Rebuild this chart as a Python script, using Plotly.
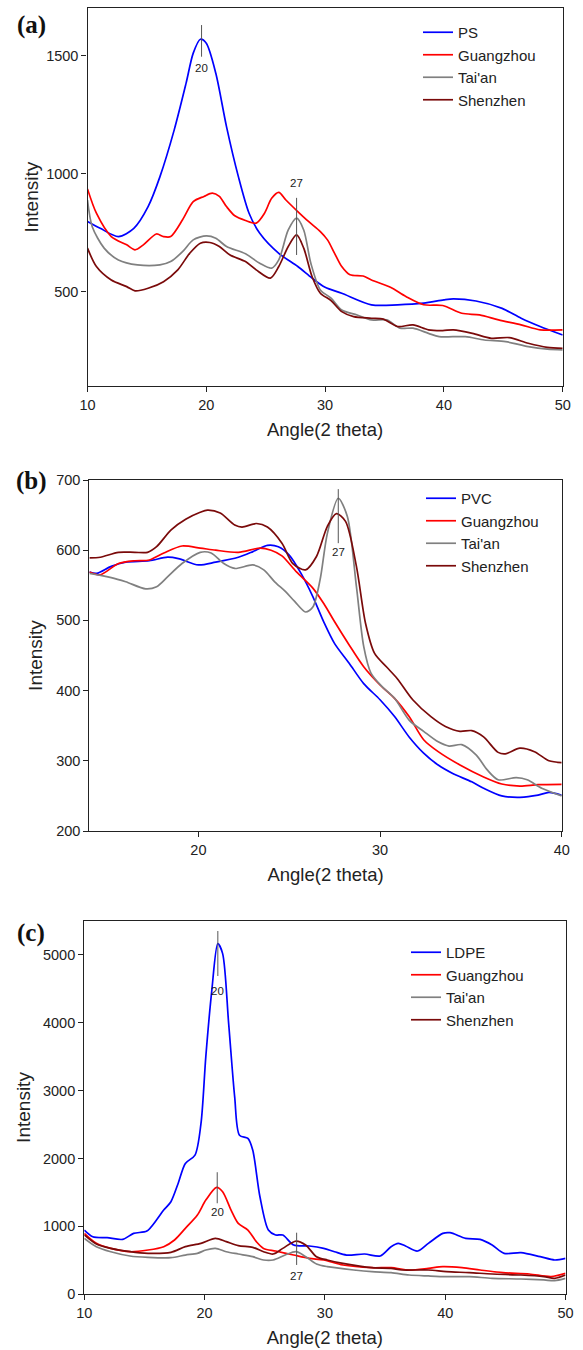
import plotly.graph_objects as go

W, H = 583, 1350
FONT = "Liberation Sans, Arial, sans-serif"
SERIF = "Liberation Serif, Times New Roman, serif"

BLUE, RED, GREY, DARK = "#0000FF", "#FF0000", "#808080", "#7A0A0A"

# ---------------- Panel (a): PS ----------------
a_ps_x = [10, 11.07, 12.6, 13.9, 15.1, 16.1, 17.3, 18.3, 18.9, 19.5, 20.0, 20.8, 21.7, 22.7, 23.6, 24.5,
          26.1, 27.7, 28.9, 30, 31.4, 33.9, 36.1, 38.3, 40, 40.8, 42.7, 44.9, 46.5, 48.1, 50]
a_ps_y = [797, 768, 733, 768, 860, 987, 1185, 1383, 1510, 1569, 1552, 1425, 1199, 987, 832, 747,
          662, 606, 557, 518, 493, 444, 444, 451, 465, 469, 460, 429, 387, 352, 316]
a_gz_x = [10, 10.75, 12.0, 13.3, 14.0, 14.7, 15.8, 16.4, 17.0, 18.0, 18.9, 19.8, 20.5, 21.1, 21.7, 22.4,
          23.3, 24.2, 24.9, 25.5, 26.1, 26.7, 27.7, 28.6, 29.6, 30.2, 30.8, 31.4, 32.1, 33.2, 33.9,
          35.5, 36.8, 38.3, 39.9, 41.5, 43.0, 44.6, 46.5, 48.1, 50]
a_gz_y = [935, 832, 733, 698, 677, 698, 744, 733, 733, 804, 881, 903, 917, 903, 860, 821,
          801, 790, 832, 895, 920, 888, 839, 797, 754, 719, 662, 606, 571, 566, 549,
          518, 479, 444, 441, 408, 401, 380, 359, 338, 338]
a_ta_x = [10, 10.4, 11.4, 12.6, 14.2, 16.1, 17.0, 18.0, 18.9, 20.0, 20.8, 21.7, 23.3, 24.5, 25.5, 26.1,
          26.9, 27.6, 28.2, 28.8, 29.6, 30.5, 31.4, 32.7, 33.9, 35.2, 36.3, 37.4, 38.7, 39.6, 41.8,
          43.4, 45.2, 47.1, 48.7, 50]
a_ta_y = [888, 775, 684, 634, 613, 613, 627, 669, 719, 736, 726, 691, 660, 620, 599, 634,
          761, 811, 761, 620, 507, 472, 422, 401, 380, 380, 345, 345, 323, 309, 309,
          295, 288, 267, 256, 253]
a_sz_x = [10, 10.75, 12.0, 13.3, 14.0, 15.1, 16.4, 17.6, 18.6, 19.5, 20.3, 21.1, 22.0, 23.3, 24.2, 25.4,
          26.1, 26.9, 27.6, 28.2, 28.9, 29.6, 30.5, 31.4, 32.4, 33.9, 34.9, 36.1, 37.4, 38.7, 39.9,
          40.8, 42.4, 44.0, 45.5, 47.1, 48.7, 50]
a_sz_y = [684, 606, 549, 521, 503, 514, 542, 592, 662, 705, 708, 691, 655, 627, 592, 557,
          606, 691, 740, 684, 564, 493, 462, 415, 394, 387, 383, 352, 359, 338, 335,
          338, 323, 302, 305, 281, 264, 260]

# ---------------- Panel (b): PVC ----------------
b_pvc_x = [14, 14.4, 15.2, 16.0, 17.3, 18.3, 18.9, 20, 20.95, 22.2, 23.0, 23.8, 24.4, 25.0, 25.65, 26.3,
           26.9, 27.5, 28.3, 29.1, 30, 30.8, 31.6, 32.4, 33.2, 34.0, 35.05, 35.7, 36.7, 37.7, 38.7,
           39.3, 40]
b_pvc_y = [569, 567, 577, 583, 585, 590, 588, 579, 583, 590, 598, 607, 605, 593, 567, 534,
           498, 467, 439, 410, 387, 363, 334, 311, 294, 282, 270, 261, 250, 248, 251,
           255, 251]
b_gz_x = [14, 14.6, 15.6, 16.5, 17.3, 18.1, 19.1, 20.1, 20.95, 22.2, 23.4, 24.0, 24.6, 25.4, 26.3, 26.9,
          27.5, 28.3, 29.1, 30, 30.8, 31.6, 32.4, 33.2, 34.4, 35.7, 36.7, 37.7, 38.7, 40]
b_gz_y = [569, 565, 581, 585, 586, 596, 606, 603, 600, 597, 603, 600, 592, 569, 546, 524,
          498, 465, 434, 408, 389, 363, 330, 313, 294, 277, 267, 264, 266, 266.5]
b_ta_x = [14, 15.2, 16.0, 17.1, 17.7, 18.3, 19.1, 20.1, 20.7, 21.4, 22.0, 23.0, 23.6, 24.2, 24.8, 25.3,
          25.9, 26.3, 26.7, 27.1, 27.7, 28.2, 28.7, 29.1, 29.5, 30.1, 30.8, 31.6, 32.4, 33.2, 33.8,
          34.5, 35.3, 35.9, 36.5, 37.5, 38.1, 38.9, 40]
b_ta_y = [567, 561, 555, 545, 548, 562, 581, 597, 596, 581, 574, 579, 572, 555, 541, 527,
          512, 519, 558, 624, 674, 648, 548, 463, 425, 406, 389, 358, 342, 327, 321,
          323, 308, 287, 273, 276, 273, 261, 250]
b_sz_x = [14, 14.6, 15.6, 16.5, 17.2, 17.7, 18.5, 19.3, 20.1, 20.5, 21.2, 22.0, 22.4, 23.2, 23.8, 24.6,
          25.2, 25.9, 26.5, 27.1, 27.6, 28.1, 28.7, 29.2, 29.7, 30.35, 30.95, 31.8, 32.8, 33.6, 34.4,
          35.05, 35.7, 36.5, 36.9, 37.7, 38.5, 39.3, 40]
b_sz_y = [589, 590, 597, 597, 597, 605, 629, 644, 654, 657, 653, 636, 633, 638, 633, 610,
          581, 572, 591, 634, 652, 641, 577, 496, 453, 434, 417, 387, 363, 349, 342,
          343, 334, 312, 310, 318, 313, 300, 297.5]

# ---------------- Panel (c): LDPE ----------------
c_ld_x = [10, 10.7, 11.9, 13.2, 14.1, 15.2, 16.0, 16.6, 17.2, 17.8, 18.4, 19.2, 19.7, 20.1, 20.6, 21.1,
          21.5, 22.0, 22.5, 22.9, 23.6, 24.0, 24.6, 25.3, 25.9, 26.5, 27.4, 28.7, 29.9, 30.8, 31.8,
          33.3, 34.6, 35.5, 36.1, 36.7, 37.7, 38.6, 39.8, 40.4, 41.7, 42.9, 43.9, 44.9, 46.3, 47.9,
          49.1, 50]
c_ld_y = [946, 848, 833, 809, 897, 931, 1093, 1240, 1363, 1632, 1926, 2049, 2515, 3495, 4475, 5162,
          5015, 3985, 2907, 2343, 2294, 2123, 1436, 946, 873, 873, 726, 711, 676, 627, 578,
          593, 564, 701, 750, 711, 637, 750, 897, 907, 824, 809, 726, 603, 613, 554,
          505, 529]
c_gz_x = [10, 11.0, 12.2, 13.8, 15.3, 16.6, 17.5, 18.4, 19.4, 20.1, 21.0, 21.5, 22.2, 22.8, 23.6, 24.3,
          24.9, 25.9, 27.4, 28.7, 29.9, 31.5, 33.9, 35.5, 37.0, 38.6, 39.8, 41.4, 42.9, 44.8, 47.0,
          48.8, 50]
c_gz_y = [897, 750, 676, 627, 652, 701, 799, 971, 1167, 1387, 1574, 1510, 1240, 1044, 946, 775,
          676, 637, 578, 529, 505, 431, 392, 392, 358, 382, 407, 392, 358, 319, 299,
          260, 309]
c_ta_x = [10, 11.0, 12.2, 13.8, 15.3, 17.2, 18.4, 19.4, 20.1, 20.9, 21.8, 22.8, 24.0, 24.9, 25.7, 26.7,
          27.6, 28.4, 29.3, 30.2, 32.4, 33.9, 35.5, 37.0, 38.6, 40.1, 42.0, 43.9, 46.3, 48.2, 49.1, 50]
c_ta_y = [824, 701, 627, 564, 544, 539, 578, 603, 652, 676, 627, 593, 554, 505, 505, 578,
          627, 554, 446, 407, 358, 333, 319, 284, 270, 260, 260, 235, 225, 211, 201, 235]
c_sz_x = [10, 11.0, 12.2, 13.8, 15.3, 17.2, 18.4, 19.7, 20.9, 21.8, 22.8, 24.0, 24.9, 25.7, 26.5, 27.6,
          28.4, 29.3, 30.2, 31.5, 33.9, 35.5, 36.4, 38.6, 40.1, 42.0, 43.9, 46.3, 48.2, 49.1, 50]
c_sz_y = [873, 740, 676, 627, 603, 618, 701, 750, 824, 775, 716, 691, 627, 593, 676, 784,
          726, 554, 505, 456, 392, 382, 358, 358, 333, 319, 299, 284, 260, 235, 284]

names_a = ["PS", "Guangzhou", "Tai'an", "Shenzhen"]
names_b = ["PVC", "Guangzhou", "Tai'an", "Shenzhen"]
names_c = ["LDPE", "Guangzhou", "Tai'an", "Shenzhen"]
colors = [BLUE, RED, GREY, DARK]

# peak markers: (x, y_low, y_high, label, label_y)
peaks_a = [(19.6, 1495, 1629, "20", 1447), (27.6, 655, 897, "27", 962)]
peaks_b = [(27.7, 610, 687, "27", 598)]
peaks_c = [(21.1, 4686, 5348, "20", 4470), (21.05, 1340, 1797, "20", 1208), (27.65, 432, 907, "27", 274)]

fig = go.Figure()

panels = [
    dict(sfx="", lg="legend", names=names_a,
         data=[(a_ps_x, a_ps_y), (a_gz_x, a_gz_y), (a_ta_x, a_ta_y), (a_sz_x, a_sz_y)]),
    dict(sfx="2", lg="legend2", names=names_b,
         data=[(b_pvc_x, b_pvc_y), (b_gz_x, b_gz_y), (b_ta_x, b_ta_y), (b_sz_x, b_sz_y)]),
    dict(sfx="3", lg="legend3", names=names_c,
         data=[(c_ld_x, c_ld_y), (c_gz_x, c_gz_y), (c_ta_x, c_ta_y), (c_sz_x, c_sz_y)]),
]

for p in panels:
    for (xs, ys), nm, col in zip(p["data"], p["names"], colors):
        fig.add_trace(go.Scatter(
            x=xs, y=ys, name=nm, mode="lines",
            line=dict(color=col, width=1.7, shape="spline", smoothing=0.8),
            xaxis="x" + p["sfx"], yaxis="y" + p["sfx"], legend=p["lg"],
        ))

def px2x(px):
    return px / W

def py2y(py):
    return 1 - py / H

axis_common = dict(
    showline=True, linecolor="#222", linewidth=1.3, mirror=True,
    ticks="outside", ticklen=5, tickwidth=1, tickcolor="#222",
    showgrid=False, zeroline=False, automargin=False,
    tickfont=dict(family=FONT, size=14.5, color="#222"),
)

# pixel boxes for each panel: (left, right, top, bottom)
box_a = (87.5, 562.7, 8.3, 386)
box_b = (89.4, 561.7, 480, 831)
box_c = (84.3, 565.5, 920.7, 1294.3)

def dom(box):
    l, r, t, b = box
    return [px2x(l), px2x(r)], [py2y(b), py2y(t)]

xa, ya = dom(box_a)
xb, yb = dom(box_b)
xc, yc = dom(box_c)

title_font = dict(family=FONT, size=18.5, color="#222")
ytitle_font = dict(family=FONT, size=19, color="#222")

fig.update_layout(
    width=W, height=H,
    margin=dict(l=0, r=0, t=0, b=0, autoexpand=False),
    paper_bgcolor="white", plot_bgcolor="white",
    font=dict(family=FONT, color="#222"),
    xaxis=dict(axis_common, domain=xa, range=[10, 50], tickvals=[10, 20, 30, 40, 50], anchor="y",
               title=dict(text="Angle(2 theta)", font=title_font, standoff=11)),
    yaxis=dict(axis_common, domain=ya, range=[100, 1700], tickvals=[500, 1000, 1500], anchor="x",
               title=dict(text="Intensity", font=ytitle_font, standoff=2)),
    xaxis2=dict(axis_common, domain=xb, range=[14, 40], tickvals=[20, 30, 40], anchor="y2",
                title=dict(text="Angle(2 theta)", font=title_font, standoff=11)),
    yaxis2=dict(axis_common, domain=yb, range=[200, 700], tickvals=[200, 300, 400, 500, 600, 700], anchor="x2",
                title=dict(text="Intensity", font=ytitle_font, standoff=8)),
    xaxis3=dict(axis_common, domain=xc, range=[10, 50], tickvals=[10, 20, 30, 40, 50], anchor="y3",
                title=dict(text="Angle(2 theta)", font=title_font, standoff=11)),
    yaxis3=dict(axis_common, domain=yc, range=[0, 5500], tickvals=[0, 1000, 2000, 3000, 4000, 5000], anchor="x3",
                title=dict(text="Intensity", font=ytitle_font, standoff=7)),
)

leg_common = dict(
    bgcolor="rgba(0,0,0,0)", borderwidth=0,
    font=dict(family=FONT, size=15, color="#222"),
    xanchor="left", yanchor="top", tracegroupgap=0, itemwidth=30,
)
fig.update_layout(
    legend=dict(leg_common, x=px2x(418), y=py2y(16)),
    legend2=dict(leg_common, x=px2x(421), y=py2y(482)),
    legend3=dict(leg_common, x=px2x(406), y=py2y(936)),
)

shapes = []
annots = []
for peaks, sfx in [(peaks_a, ""), (peaks_b, "2"), (peaks_c, "3")]:
    for xv, y0, y1, lab, ly in peaks:
        shapes.append(dict(type="line", xref="x" + sfx, yref="y" + sfx,
                           x0=xv, x1=xv, y0=y0, y1=y1,
                           line=dict(color="#555", width=1)))
        annots.append(dict(xref="x" + sfx, yref="y" + sfx, x=xv, y=ly, text=lab,
                           showarrow=False, font=dict(family=FONT, size=11.5, color="#222")))

for lab, px, py in [("(a)", 31, 25), ("(b)", 31, 481), ("(c)", 30.5, 933)]:
    annots.append(dict(xref="paper", yref="paper", x=px2x(px), y=py2y(py), text="<b>" + lab + "</b>",
                       showarrow=False, xanchor="center", yanchor="middle",
                       font=dict(family=SERIF, size=25, color="#111")))

fig.update_layout(shapes=shapes, annotations=annots)

fig.write_html("out.html", config={"displayModeBar": False},
               post_script="document.body.style.margin='0';")
